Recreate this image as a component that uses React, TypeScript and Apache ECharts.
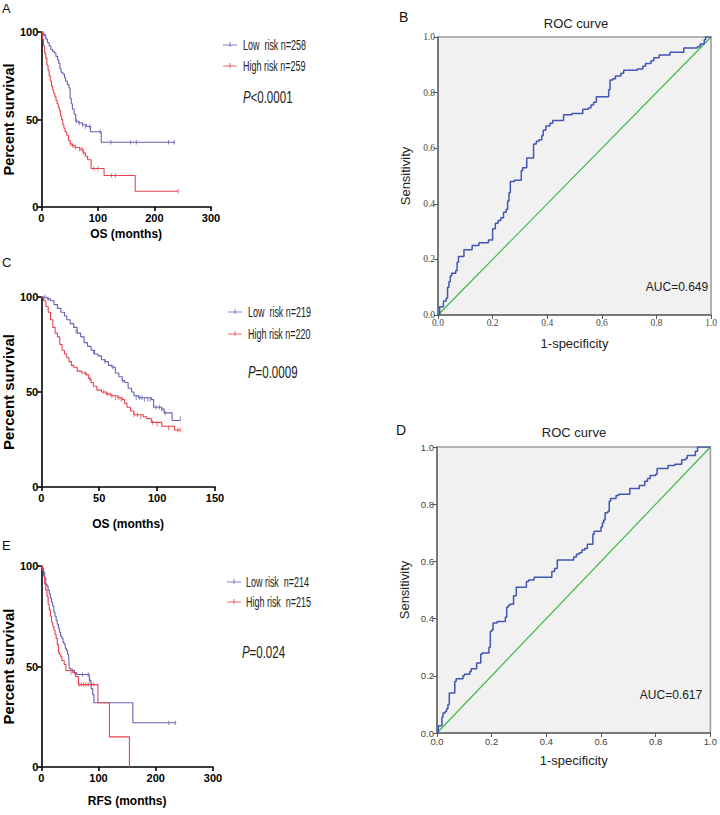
import React, { useEffect, useRef } from "react";
import * as echarts from "echarts";

const SANS = "'Liberation Sans', Arial, sans-serif";
const SERIF = "'Liberation Serif', 'Times New Roman', serif";

const BLUE = "#6262b2";
const RED = "#e8414d";
const ROC_BLUE = "#4356b2";
const GREEN = "#3dba45";

// ---------- Panel A : OS (months), TCGA ----------
const kmA_low = [[0,100],[2,99],[5,98],[8,96],[11,94],[14,92],[17,90],[20,89],[23,88],[26,86],[29,84],[31,82],[33,79],[35,77],[38,76],[41,74],[43,72],[46,70],[49,68],[51,62],[53,59],[55,56],[58,53],[61,49],[66,48],[73,47],[80,46],[87,43],[98,43],[106,37],[236,37]];
const kmA_high = [[0,100],[2,96],[4,92],[6,88],[8,85],[10,81],[12,78],[14,75],[16,72],[18,69],[20,67],[22,65],[24,63],[26,61],[28,59],[30,57],[32,55],[34,52],[36,50],[38,47],[40,45],[42,43],[45,41],[48,38],[51,36],[55,35],[60,34],[68,33],[74,31],[78,29],[82,27],[88,22],[111,18],[166,9],[242,9]];
const cenA_low = [[4,99],[7,98],[62,49],[67,48],[73,47],[78,46],[86,46],[104,43],[123,37],[158,37],[168,37],[225,37],[235,37]];
const cenA_high = [[52,36],[56,35],[60,34],[68,33],[72,33],[75,31],[93,22],[100,22],[124,18],[131,18],[242,9]];

// ---------- Panel C : OS (months), validation ----------
const kmC_low = [[0,100],[5,99],[8,98],[11,96],[14,94],[17,92],[20,90],[22,88],[25,86],[28,84],[31,81],[34,79],[37,76],[40,74],[43,72],[46,70],[49,69],[52,67],[55,66],[58,64],[61,63],[64,60],[67,58],[70,56],[72,55],[75,52],[78,50],[80,48],[84,47],[95,46],[97,42],[104,41],[106,39],[113,35],[120,35]];
const kmC_high = [[0,100],[2,98],[4,95],[6,92],[8,88],[10,84],[12,81],[14,79],[16,75],[18,72],[20,70],[22,68],[24,66],[26,64],[28,63],[31,61],[35,60],[39,59],[41,57],[43,55],[45,53],[48,51],[52,50],[56,49],[60,48],[66,47],[70,46],[72,44],[74,42],[77,40],[80,38],[88,37],[91,36],[95,34],[104,32],[115,30],[120,30]];
const cenC_low = [[3,100],[6,99],[30,82],[45,71],[55,66],[62,63],[70,56],[82,47],[85,47],[87,47],[89,46],[92,46],[94,46],[99,42],[102,42],[104,41],[107,39],[120,36]];
const cenC_high = [[38,60],[42,57],[54,50],[57,49],[61,48],[64,47],[67,47],[69,46],[80,38],[83,38],[86,37],[96,34],[100,33],[110,31],[118,30],[120,30]];

// ---------- Panel E : RFS (months) ----------
const kmE_low = [[0,100],[2,99],[4,97],[6,94],[8,91],[10,90],[12,88],[14,86],[16,84],[18,82],[20,80],[22,77],[24,75],[26,73],[28,71],[30,69],[32,67],[34,65],[36,64],[38,62],[40,61],[42,59],[44,58],[46,56],[48,54],[49,49],[52,48],[58,47],[62,46],[84,43],[87,39],[90,36],[92,32],[160,22],[236,22]];
const kmE_high = [[0,100],[2,98],[4,95],[6,91],[8,88],[10,85],[12,81],[14,78],[16,75],[18,72],[20,70],[22,68],[24,66],[26,64],[28,61],[30,57],[32,56],[34,55],[36,53],[40,51],[43,48],[55,47],[60,45],[65,41],[99,32],[119,15],[154,0]];
const cenE_low = [[55,48],[72,46],[82,46],[85,43],[223,22],[234,22]];
const cenE_high = [[52,47],[58,47],[66,41],[70,41],[74,41],[78,41],[82,41],[88,41],[92,41]];

// ---------- Panels B and D : ROC ----------
const rocB = [[0,0],[0.006,0.03],[0.02,0.05],[0.03,0.06],[0.035,0.10],[0.04,0.12],[0.045,0.14],[0.05,0.15],[0.065,0.16],[0.07,0.19],[0.075,0.21],[0.095,0.235],[0.125,0.25],[0.15,0.26],[0.185,0.27],[0.2,0.31],[0.21,0.33],[0.22,0.34],[0.23,0.35],[0.24,0.37],[0.25,0.38],[0.255,0.41],[0.26,0.44],[0.265,0.48],[0.28,0.485],[0.305,0.52],[0.31,0.53],[0.325,0.565],[0.35,0.615],[0.36,0.625],[0.37,0.63],[0.38,0.645],[0.385,0.665],[0.395,0.68],[0.41,0.69],[0.42,0.70],[0.46,0.72],[0.49,0.725],[0.53,0.74],[0.55,0.745],[0.56,0.755],[0.57,0.765],[0.58,0.785],[0.625,0.81],[0.63,0.845],[0.64,0.85],[0.65,0.86],[0.67,0.87],[0.68,0.88],[0.73,0.885],[0.75,0.895],[0.76,0.905],[0.78,0.915],[0.79,0.925],[0.81,0.935],[0.85,0.945],[0.9,0.96],[0.95,0.965],[0.96,0.975],[0.975,0.99],[0.98,1.0],[1.0,1.0]];
const rocD = [[0,0],[0.005,0.025],[0.018,0.055],[0.022,0.07],[0.03,0.075],[0.035,0.085],[0.04,0.10],[0.045,0.14],[0.065,0.18],[0.07,0.19],[0.095,0.2],[0.1,0.205],[0.12,0.215],[0.125,0.225],[0.145,0.245],[0.16,0.275],[0.165,0.28],[0.19,0.30],[0.195,0.355],[0.2,0.36],[0.205,0.385],[0.22,0.39],[0.25,0.405],[0.255,0.44],[0.26,0.445],[0.265,0.45],[0.28,0.48],[0.29,0.51],[0.327,0.53],[0.335,0.535],[0.355,0.545],[0.42,0.565],[0.43,0.575],[0.44,0.605],[0.5,0.615],[0.51,0.625],[0.52,0.63],[0.53,0.64],[0.54,0.645],[0.55,0.66],[0.57,0.695],[0.575,0.705],[0.6,0.72],[0.605,0.735],[0.61,0.745],[0.615,0.77],[0.625,0.775],[0.63,0.81],[0.635,0.82],[0.655,0.83],[0.665,0.835],[0.705,0.855],[0.74,0.865],[0.76,0.88],[0.77,0.89],[0.78,0.9],[0.8,0.905],[0.805,0.925],[0.845,0.935],[0.87,0.94],[0.895,0.955],[0.91,0.96],[0.915,0.97],[0.945,0.985],[0.953,1.0],[1.0,1.0]];
const diagonal = [[0,0],[1,1]];

const legA = ["Low  risk n=258", "High risk n=259"];
const legC = ["Low  risk n=219", "High risk n=220"];
const legE = ["Low risk  n=214", "High risk  n=215"];
const pA = "<0.0001";
const pC = "=0.0009";
const pE = "=0.024";
const aucB = "AUC=0.649";
const aucD = "AUC=0.617";

function kmX(gi: number, max: number, interval: number, name: string, gap: number) {
  return {
    type: "value", gridIndex: gi, min: 0, max, interval,
    name, nameLocation: "middle", nameGap: gap,
    nameTextStyle: { fontFamily: SANS, fontWeight: "bold", fontSize: 12, color: "#000" },
    axisLine: { show: true, onZero: false, lineStyle: { color: "#000", width: 1.6 } },
    axisTick: { show: true, length: 4, lineStyle: { color: "#000", width: 1.6 } },
    axisLabel: { color: "#000", fontFamily: SANS, fontWeight: "bold", fontSize: 11, margin: 5 },
    splitLine: { show: false },
  };
}
function kmY(gi: number, gap: number, size: number) {
  return {
    type: "value", gridIndex: gi, min: 0, max: 100, interval: 50,
    name: "Percent survival", nameLocation: "middle", nameGap: gap, nameRotate: 90,
    nameTextStyle: { fontFamily: SANS, fontWeight: "bold", fontSize: size, color: "#000" },
    axisLine: { show: true, onZero: false, lineStyle: { color: "#000", width: 1.6 } },
    axisTick: { show: true, length: 4, lineStyle: { color: "#000", width: 1.6 } },
    axisLabel: { color: "#000", fontFamily: SANS, fontWeight: "bold", fontSize: 11, margin: 3 },
    splitLine: { show: false },
  };
}
function rocAxis(gi: number, isX: boolean, font: string, name: string, gap: number) {
  return {
    type: "value", gridIndex: gi, min: 0, max: 1, interval: 0.2,
    name, nameLocation: "middle", nameGap: gap, nameRotate: isX ? 0 : 90,
    nameTextStyle: { fontFamily: SANS, fontSize: 13, color: "#222" },
    axisLine: { show: true, onZero: false, lineStyle: { color: "#666", width: 1.5 } },
    axisTick: { show: true, length: 4, lineStyle: { color: "#555", width: 1 } },
    axisLabel: { color: "#444", fontFamily: font, fontSize: 9.5, margin: 3, formatter: (v: number) => v.toFixed(1) },
    splitLine: { show: false },
  };
}
function km(xi: number, data: number[][], color: string) {
  return { type: "line", xAxisIndex: xi, yAxisIndex: xi, data, step: "end", symbol: "none", showSymbol: false, silent: true, lineStyle: { color, width: 1.1 } };
}
function cen(xi: number, data: number[][], color: string) {
  return { type: "scatter", xAxisIndex: xi, yAxisIndex: xi, data, symbol: "rect", symbolSize: [1, 4.5], silent: true, itemStyle: { color, opacity: 0.75 } };
}
function roc(xi: number, data: number[][]) {
  return { type: "line", xAxisIndex: xi, yAxisIndex: xi, data, step: "end", symbol: "none", showSymbol: false, silent: true, lineStyle: { color: ROC_BLUE, width: 1.5 } };
}
function diag(xi: number) {
  return { type: "line", xAxisIndex: xi, yAxisIndex: xi, data: diagonal, symbol: "none", showSymbol: false, silent: true, lineStyle: { color: GREEN, width: 1.2 } };
}

function legend(x: number, y1: number, y2: number, labels: string[], textX: number) {
  const els: any[] = [];
  [[y1, BLUE, labels[0]], [y2, RED, labels[1]]].forEach(([y, c, t]: any) => {
    els.push({ type: "line", shape: { x1: x, y1: y, x2: x + 14, y2: y }, style: { stroke: c, lineWidth: 1, opacity: 0.8 }, silent: true });
    els.push({ type: "line", shape: { x1: x + 7, y1: y - 3, x2: x + 7, y2: y + 2 }, style: { stroke: c, lineWidth: 1, opacity: 0.8 }, silent: true });
    els.push({ type: "text", x: textX, y, scaleX: 0.64, style: { text: t, fill: "#222", font: `14px ${SANS}`, verticalAlign: "middle" } });
  });
  return els;
}
function pval(x: number, y: number, rest: string) {
  return [
    { type: "text", x, y, scaleX: 0.68, style: { text: "P", fill: "#222", font: `italic 17px ${SANS}`, verticalAlign: "middle" } },
    { type: "text", x: x + 7.5, y, scaleX: 0.68, style: { text: rest, fill: "#222", font: `17px ${SANS}`, verticalAlign: "middle" } },
  ];
}
function label(x: number, y: number, t: string, size = 13) {
  return { type: "text", x, y, style: { text: t, fill: "#111", font: `${size}px ${SANS}`, verticalAlign: "middle" } };
}
function ctext(x: number, y: number, t: string, size: number) {
  return { type: "text", x, y, style: { text: t, fill: "#222", font: `${size}px ${SANS}`, align: "center", verticalAlign: "middle" } };
}

export default function App() {
  const ref = useRef<HTMLDivElement>(null);
  useEffect(() => {
    document.body.style.margin = "0";
    const chart = echarts.init(ref.current!, undefined, { renderer: "svg" });
    const rocGrid = { show: true, backgroundColor: "#f1f1f1", borderColor: "#9a9a9a", borderWidth: 1.5 };
    chart.setOption({
      animation: false,
      backgroundColor: "#fff",
      grid: [
        { left: 33.5, top: 32, width: 177.5, height: 175 },
        { left: 33.5, top: 297, width: 181.5, height: 190 },
        { left: 32, top: 566, width: 181, height: 201 },
        { left: 438, top: 37, width: 278, height: 278, ...rocGrid },
        { left: 437, top: 447, width: 279, height: 286, ...rocGrid },
      ],
      xAxis: [
        kmX(0, 300, 100, "OS (months)", 21),
        kmX(1, 150, 50, "OS (months)", 31),
        kmX(2, 300, 100, "RFS (months)", 28),
        rocAxis(3, true, SERIF, "1-specificity", 22),
        rocAxis(4, true, SANS, "1-specificity", 21),
      ],
      yAxis: [
        kmY(0, 21, 14.5),
        kmY(1, 21, 15),
        kmY(2, 21, 15),
        rocAxis(3, false, SERIF, "Sensitivity", 26),
        rocAxis(4, false, SANS, "Sensitivity", 26),
      ],
      series: [
        km(0, kmA_low, BLUE), km(0, kmA_high, RED), cen(0, cenA_low, BLUE), cen(0, cenA_high, RED),
        km(1, kmC_low, BLUE), km(1, kmC_high, RED), cen(1, cenC_low, BLUE), cen(1, cenC_high, RED),
        km(2, kmE_low, BLUE), km(2, kmE_high, RED), cen(2, cenE_low, BLUE), cen(2, cenE_high, RED),
        diag(3), roc(3, rocB),
        diag(4), roc(4, rocD),
      ],
      graphic: [
        label(2, 8, "A"), label(2, 262, "C"), label(2, 545, "E"),
        label(399, 17, "B", 14), label(396, 430, "D", 14),
        ctext(576, 23, "ROC curve", 13), ctext(574, 432, "ROC curve", 13),
        ctext(677, 287, aucB, 12), ctext(671, 695, aucD, 12),
        ...legend(223, 45, 66, legA, 243),
        ...legend(228, 312, 334, legC, 248),
        ...legend(227, 582, 602, legE, 246),
        ...pval(243, 97, pA),
        ...pval(248, 372, pC),
        ...pval(242, 652, pE),
      ],
    });
    return () => chart.dispose();
  }, []);
  return <div ref={ref} style={{ width: 720, height: 815, position: "absolute", left: 0, top: 0 }} />;
}
